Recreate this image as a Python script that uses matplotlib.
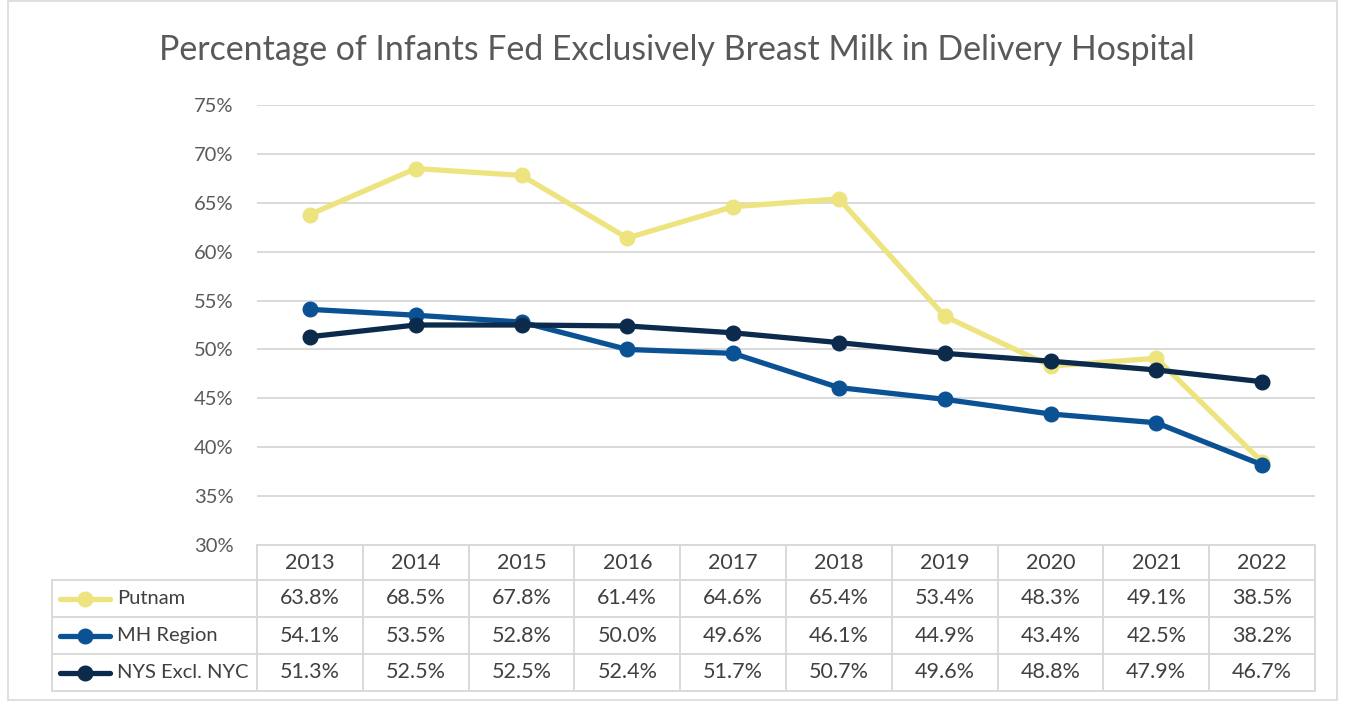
import matplotlib
matplotlib.use("Agg")
import matplotlib.pyplot as plt
from matplotlib.lines import Line2D
from matplotlib.patches import Rectangle
from matplotlib.transforms import blended_transform_factory

plt.rcParams['font.family'] = ['Lato', 'DejaVu Sans']

years = ["2013", "2014", "2015", "2016", "2017", "2018", "2019", "2020", "2021", "2022"]
putnam = [63.8, 68.5, 67.8, 61.4, 64.6, 65.4, 53.4, 48.3, 49.1, 38.5]
mh_region = [54.1, 53.5, 52.8, 50.0, 49.6, 46.1, 44.9, 43.4, 42.5, 38.2]
nys_excl_nyc = [51.3, 52.5, 52.5, 52.4, 51.7, 50.7, 49.6, 48.8, 47.9, 46.7]
series_names = ["Putnam", "MH Region", "NYS Excl. NYC"]
series_colors = ["#EDE47F", "#0B5294", "#0C2A4B"]
y_ticks = [30, 35, 40, 45, 50, 55, 60, 65, 70, 75]
title = "Percentage of Infants Fed Exclusively Breast Milk in Delivery Hospital"

W, H = 1345, 704
fig = plt.figure(figsize=(W / 100, H / 100), dpi=100)

def fx(px):
    return px / W

def fy(py):
    return 1 - py / H

# outer border
fig.patches.append(Rectangle((fx(8), fy(700)), fx(1337) - fx(8), fy(1) - fy(700),
                             transform=fig.transFigure, fill=False,
                             edgecolor="#D9D9D9", linewidth=1.2))

ax = fig.add_axes([fx(257), fy(545), fx(1315) - fx(257), fy(105) - fy(545)])
xs = list(range(len(years)))
for vals, color in zip([putnam, mh_region, nys_excl_nyc], series_colors):
    ax.plot(xs, vals, color=color, linewidth=3.8, marker="o", markersize=10.5,
            solid_capstyle="round", zorder=3)

ax.set_xlim(-0.5, len(years) - 0.5)
ax.set_ylim(y_ticks[0], y_ticks[-1])
ax.set_yticks(y_ticks)
ax.set_yticklabels([f"{t}%" for t in y_ticks])
ax.set_xticks([])
ax.tick_params(axis="y", length=0, pad=17, labelsize=14.5, labelcolor="#595959")
ax.grid(axis="y", color="#D9D9D9", linewidth=1.4)
ax.set_axisbelow(True)
for s in ax.spines.values():
    s.set_visible(False)

fig.text(fx(677), fy(50), title, ha="center", va="center", fontsize=24.4, color="#595959")

# data table
tr = blended_transform_factory(ax.transData, fig.transFigure)
grid_c = "#D9D9D9"
lw = 1.4
row_edges = [545, 580, 617, 654, 691]
left_px = 52
n = len(years)
fig.add_artist(Line2D([-0.5, n - 0.5], [fy(545), fy(545)], transform=tr, color=grid_c, lw=lw))
for ry in row_edges[1:]:
    fig.add_artist(Line2D([fx(left_px), fx(1315)], [fy(ry), fy(ry)],
                          transform=fig.transFigure, color=grid_c, lw=lw))
for i in range(n + 1):
    fig.add_artist(Line2D([i - 0.5, i - 0.5], [fy(545), fy(691)], transform=tr, color=grid_c, lw=lw))
fig.add_artist(Line2D([fx(left_px), fx(left_px)], [fy(580), fy(691)],
                      transform=fig.transFigure, color=grid_c, lw=lw))

txt_c = "#404040"
fs = 15.5
for i, yr in enumerate(years):
    fig.text(i, fy(563), yr, transform=tr, ha="center", va="center", fontsize=fs, color=txt_c)
for r, (name, vals, color) in enumerate(zip(series_names, [putnam, mh_region, nys_excl_nyc], series_colors)):
    yc = fy((row_edges[r + 1] + row_edges[r + 2]) / 2)
    fig.add_artist(Line2D([fx(60), fx(110)], [yc, yc], transform=fig.transFigure,
                          color=color, lw=3.8, solid_capstyle="round"))
    fig.add_artist(Line2D([fx(85)], [yc], transform=fig.transFigure, color=color,
                          marker="o", markersize=10.5, lw=0))
    fig.text(fx(117), yc, name, ha="left", va="center", fontsize=14.5, color=txt_c)
    for i, v in enumerate(vals):
        fig.text(i, yc, f"{v:.1f}%", transform=tr, ha="center", va="center", fontsize=fs, color=txt_c)

fig.savefig("out.png", dpi=100, facecolor="white")
